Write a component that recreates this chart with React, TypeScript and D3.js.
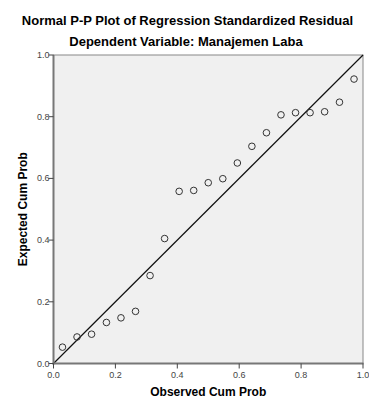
import { useEffect, useRef } from 'react';
import * as d3 from 'd3';

const title = 'Normal P-P Plot of Regression Standardized Residual';
const subtitle = 'Dependent Variable: Manajemen Laba';
const xLabel = 'Observed Cum Prob';
const yLabel = 'Expected Cum Prob';

// observed cumulative probabilities (x) and expected ones (y)
const observed = [0.029, 0.076, 0.123, 0.171, 0.218, 0.265, 0.312, 0.359, 0.406, 0.453, 0.5,
    0.547, 0.594, 0.641, 0.688, 0.735, 0.782, 0.829, 0.876, 0.924, 0.971];
const expected = [0.053, 0.086, 0.095, 0.133, 0.148, 0.169, 0.285, 0.405, 0.558, 0.561, 0.586,
    0.599, 0.65, 0.704, 0.748, 0.806, 0.813, 0.813, 0.816, 0.847, 0.922];
const ticks = [0, 0.2, 0.4, 0.6, 0.8, 1.0];

export default function App() {
    const svgRef = useRef<SVGSVGElement>(null);

    useEffect(() => {
        if (!svgRef.current) return;
        const width = 369;
        const height = 398;
        const svg = d3.select(svgRef.current).attr('width', width).attr('height', height);
        svg.selectAll('*').remove();

        const left = 53.5, right = 363, top = 55, bottom = 363.5;
        const x = d3.scaleLinear().domain([0, 1]).range([left, right]);
        const y = d3.scaleLinear().domain([0, 1]).range([bottom, top]);
        const font = 'Arial, "Liberation Sans", sans-serif';

        svg.append('text').attr('x', 187.5).attr('y', 25).attr('text-anchor', 'middle')
            .style('font-family', font).style('font-size', '13px').style('font-weight', 'bold')
            .attr('fill', '#000').text(title);
        svg.append('text').attr('x', 186).attr('y', 46).attr('text-anchor', 'middle')
            .style('font-family', font).style('font-size', '13px').style('font-weight', 'bold')
            .attr('fill', '#000').text(subtitle);

        // plot background + frame
        svg.append('rect').attr('x', left).attr('y', top).attr('width', right - left).attr('height', bottom - top)
            .attr('fill', '#f0f0f0').attr('stroke', '#888').attr('stroke-width', 1);

        // diagonal
        svg.append('line').attr('x1', x(0)).attr('y1', y(0)).attr('x2', x(1)).attr('y2', y(1))
            .attr('stroke', '#111').attr('stroke-width', 1.2);

        // points
        svg.append('g').selectAll('circle').data(observed).join('circle')
            .attr('cx', d => x(d)).attr('cy', (d, i) => y(expected[i])).attr('r', 3.3)
            .attr('fill', 'none').attr('stroke', '#333').attr('stroke-width', 1);

        // axes
        svg.append('line').attr('x1', left).attr('x2', left).attr('y1', top).attr('y2', bottom + 1)
            .attr('stroke', '#777').attr('stroke-width', 2);
        svg.append('line').attr('x1', left - 1).attr('x2', right + 0.5).attr('y1', bottom).attr('y2', bottom)
            .attr('stroke', '#777').attr('stroke-width', 2);

        const yTicks = svg.append('g');
        yTicks.selectAll('line').data(ticks).join('line')
            .attr('x1', left - 5).attr('x2', left).attr('y1', d => y(d)).attr('y2', d => y(d))
            .attr('stroke', '#444').attr('stroke-width', 1);
        yTicks.selectAll('text').data(ticks).join('text')
            .attr('x', left - 4).attr('y', d => y(d) + 3).attr('text-anchor', 'end')
            .style('font-family', font).style('font-size', '9px').attr('fill', '#444')
            .text(d => d.toFixed(1));

        const xTicks = svg.append('g');
        xTicks.selectAll('line').data(ticks).join('line')
            .attr('x1', d => x(d)).attr('x2', d => x(d)).attr('y1', bottom).attr('y2', bottom + 5)
            .attr('stroke', '#444').attr('stroke-width', 1);
        xTicks.selectAll('text').data(ticks).join('text')
            .attr('x', d => x(d)).attr('y', 378).attr('text-anchor', 'middle')
            .style('font-family', font).style('font-size', '9px').attr('fill', '#444')
            .text(d => d.toFixed(1));

        svg.append('text').attr('x', (left + right) / 2).attr('y', 396).attr('text-anchor', 'middle')
            .style('font-family', font).style('font-size', '12px').style('font-weight', 'bold')
            .attr('fill', '#000').text(xLabel);
        svg.append('text').attr('transform', `translate(27,${(top + bottom) / 2}) rotate(-90)`)
            .attr('text-anchor', 'middle')
            .style('font-family', font).style('font-size', '12px').style('font-weight', 'bold')
            .attr('fill', '#000').text(yLabel);
    }, []);

    return <svg ref={svgRef} style={{ position: 'absolute', left: 0, top: 0, background: '#fff' }} />;
}
